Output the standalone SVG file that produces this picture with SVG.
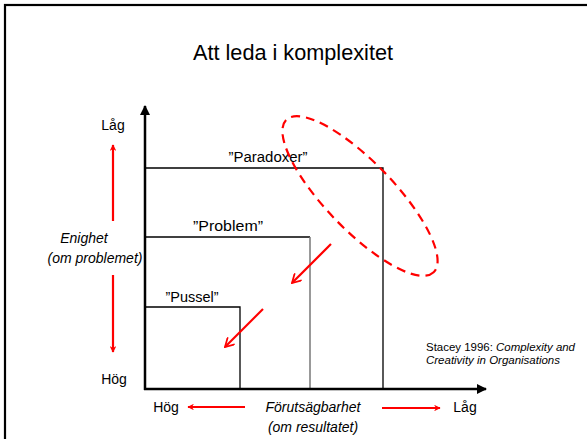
<svg xmlns="http://www.w3.org/2000/svg" width="587" height="439" viewBox="0 0 587 439">
<style>
.t{font-family:"Liberation Sans","Noto Sans",sans-serif;fill:#000}
.lbl{font-size:14px;text-anchor:middle}
.it{font-style:italic}
.box{fill:none;stroke:#000;stroke-width:1.3}
.red{stroke:#ff0000;stroke-width:2.2;fill:none}
</style>
<defs>
<marker id="ar" viewBox="0 0 10 10" refX="9" refY="5" markerWidth="4" markerHeight="4" orient="auto" markerUnits="strokeWidth"><path d="M0,0 L10,5 L0,10 z" fill="#000"/></marker>
<marker id="rs" viewBox="0 0 10 10" refX="9" refY="5" markerWidth="3.5" markerHeight="3" orient="auto" markerUnits="strokeWidth"><path d="M0,0 L10,5 L0,10 L3,5 z" fill="#ff0000"/></marker>
<marker id="rv" viewBox="0 0 10 10" refX="9" refY="5" markerWidth="5" markerHeight="5" orient="auto" markerUnits="strokeWidth"><path d="M1,0.5 L9,5 L1,9.5" fill="none" stroke="#ff0000" stroke-width="1.6"/></marker>
</defs>
<rect x="0" y="0" width="587" height="439" fill="#fff"/>
<rect x="5" y="5" width="600" height="460" fill="none" stroke="#000" stroke-width="2.2"/>
<text class="t" x="293" y="60" font-size="22" text-anchor="middle" textLength="200" lengthAdjust="spacingAndGlyphs">Att leda i komplexitet</text>

<g id="paradoxer">
<polyline class="box" points="145,168 383,168 383,389"/>
<text class="t lbl" x="268" y="162" textLength="79" lengthAdjust="spacingAndGlyphs">”Paradoxer”</text>
</g>
<g id="problem">
<line x1="145" y1="237" x2="310" y2="237" stroke="#000" stroke-width="1.3"/>
<line x1="310" y1="237" x2="310" y2="389" stroke="#777" stroke-width="1.5"/>
<text class="t lbl" x="228" y="231" textLength="70" lengthAdjust="spacingAndGlyphs">”Problem”</text>
</g>
<g id="pussel">
<polyline class="box" points="145,307 240,307 240,389"/>
<text class="t lbl" x="192" y="302" textLength="53" lengthAdjust="spacingAndGlyphs">”Pussel”</text>
</g>
<g id="ellipse">
<ellipse cx="360" cy="196" rx="106" ry="34" transform="rotate(46 360 196)" class="red" stroke-width="2.5" stroke-dasharray="9,6"/>
</g>

<g id="connectors">
<line x1="145" y1="390" x2="145" y2="106" stroke="#000" stroke-width="2.5" marker-end="url(#ar)"/>
<line x1="144" y1="389" x2="486" y2="389" stroke="#000" stroke-width="2.5" marker-end="url(#ar)"/>
<line x1="113" y1="221" x2="113" y2="145" class="red" stroke-width="2" marker-end="url(#rs)"/>
<line x1="113" y1="275" x2="113" y2="352" class="red" stroke-width="2" marker-end="url(#rs)"/>
<line x1="245" y1="407" x2="188" y2="407" class="red" stroke-width="2" marker-end="url(#rs)"/>
<line x1="382" y1="408" x2="440" y2="408" class="red" stroke-width="2" marker-end="url(#rs)"/>
<line x1="331" y1="244" x2="292" y2="283" class="red" stroke-width="2.2" marker-end="url(#rv)"/>
<line x1="263" y1="309" x2="225" y2="347" class="red" stroke-width="2.2" marker-end="url(#rv)"/>
</g>

<text class="t lbl" x="113" y="130">Låg</text>
<text class="t lbl it" x="84" y="243">Enighet</text>
<text class="t lbl it" x="95" y="263">(om problemet)</text>
<text class="t lbl" x="114" y="384">Hög</text>
<text class="t lbl" x="166" y="412">Hög</text>
<text class="t lbl it" x="313" y="412">Förutsägbarhet</text>
<text class="t lbl it" x="313" y="432">(om resultatet)</text>
<text class="t lbl" x="465" y="412">Låg</text>
<text class="t" x="426" y="351" font-size="10.5" textLength="149" lengthAdjust="spacingAndGlyphs">Stacey 1996: <tspan class="it">Complexity and</tspan></text>
<text class="t it" x="426" y="364" font-size="10.5" textLength="134" lengthAdjust="spacingAndGlyphs">Creativity in Organisations</text>
</svg>
